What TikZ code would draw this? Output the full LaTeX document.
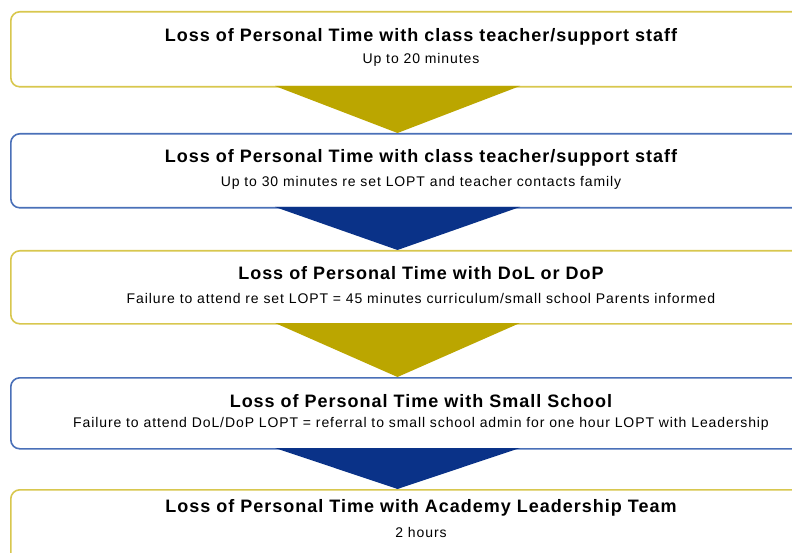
\documentclass[tikz,border=0pt]{standalone}
\usepackage{fontspec}
\setmainfont{Liberation Sans}
\newfontfamily\titlefont[LetterSpace=5.5]{Liberation Sans}
\newfontfamily\subfont[LetterSpace=6.5]{Liberation Sans}
\definecolor{goldline}{HTML}{D8C74E}
\definecolor{goldfill}{HTML}{BBA600}
\definecolor{blueline}{HTML}{4A70B8}
\definecolor{bluefill}{HTML}{0A3288}
\begin{document}
\begin{tikzpicture}[x=1pt,y=-1pt,
  stagebox/.style={draw, line width=1.6pt, rounded corners=9pt, fill=white, inner sep=0pt},
  titletext/.style={font=\titlefont\bfseries\fontsize{18}{20}\selectfont, inner sep=0pt, anchor=center},
  subtext/.style={font=\subfont\fontsize{14}{16}\selectfont, inner sep=0pt, anchor=center},
]
\useasboundingbox (0,0) rectangle (792,553);
\clip (0,0) rectangle (792,553);
% boxes
\node[stagebox, draw=goldline, minimum width=822pt, minimum height=75pt, anchor=north west] (b1) at (10,11) {};
\node[stagebox, draw=blueline, minimum width=822pt, minimum height=74pt, anchor=north west] (b2) at (10,133) {};
\node[stagebox, draw=goldline, minimum width=822pt, minimum height=73pt, anchor=north west] (b3) at (10,250) {};
\node[stagebox, draw=blueline, minimum width=822pt, minimum height=71pt, anchor=north west] (b4) at (10,377) {};
\node[stagebox, draw=goldline, minimum width=822pt, minimum height=80pt, anchor=north west] (b5) at (10,489) {};
% triangles
\fill[goldfill] (275,86) -- (520,86) -- (397.5,133) -- cycle;
\fill[bluefill] (275,207) -- (520,207) -- (397.5,250) -- cycle;
\fill[goldfill] (275,323) -- (520,323) -- (397.5,377) -- cycle;
\fill[bluefill] (275,448) -- (520,448) -- (397.5,489) -- cycle;
% texts
\node[titletext] (t1) at (421,37) {Loss of Personal Time with class teacher/support staff};
\node[subtext] (s1) at (421,60) {Up to 20 minutes};
\node[titletext] (t2) at (421,158) {Loss of Personal Time with class teacher/support staff};
\node[subtext] (s2) at (421,183) {Up to 30 minutes re set LOPT and teacher contacts family};
\node[titletext] (t3) at (421,273) {Loss of Personal Time with DoL or DoP};
\node[subtext] (s3) at (421,298) {Failure to attend re set LOPT = 45 minutes curriculum/small school Parents informed};
\node[titletext] (t4) at (421,401) {Loss of Personal Time with Small School};
\node[subtext] (s4) at (421,424) {Failure to attend DoL/DoP LOPT = referral to small school admin for one hour LOPT with Leadership};
\node[titletext] (t5) at (421,508) {Loss of Personal Time with Academy Leadership Team};
\node[subtext] (s5) at (421,532) {2 hours};
\end{tikzpicture}
\end{document}
